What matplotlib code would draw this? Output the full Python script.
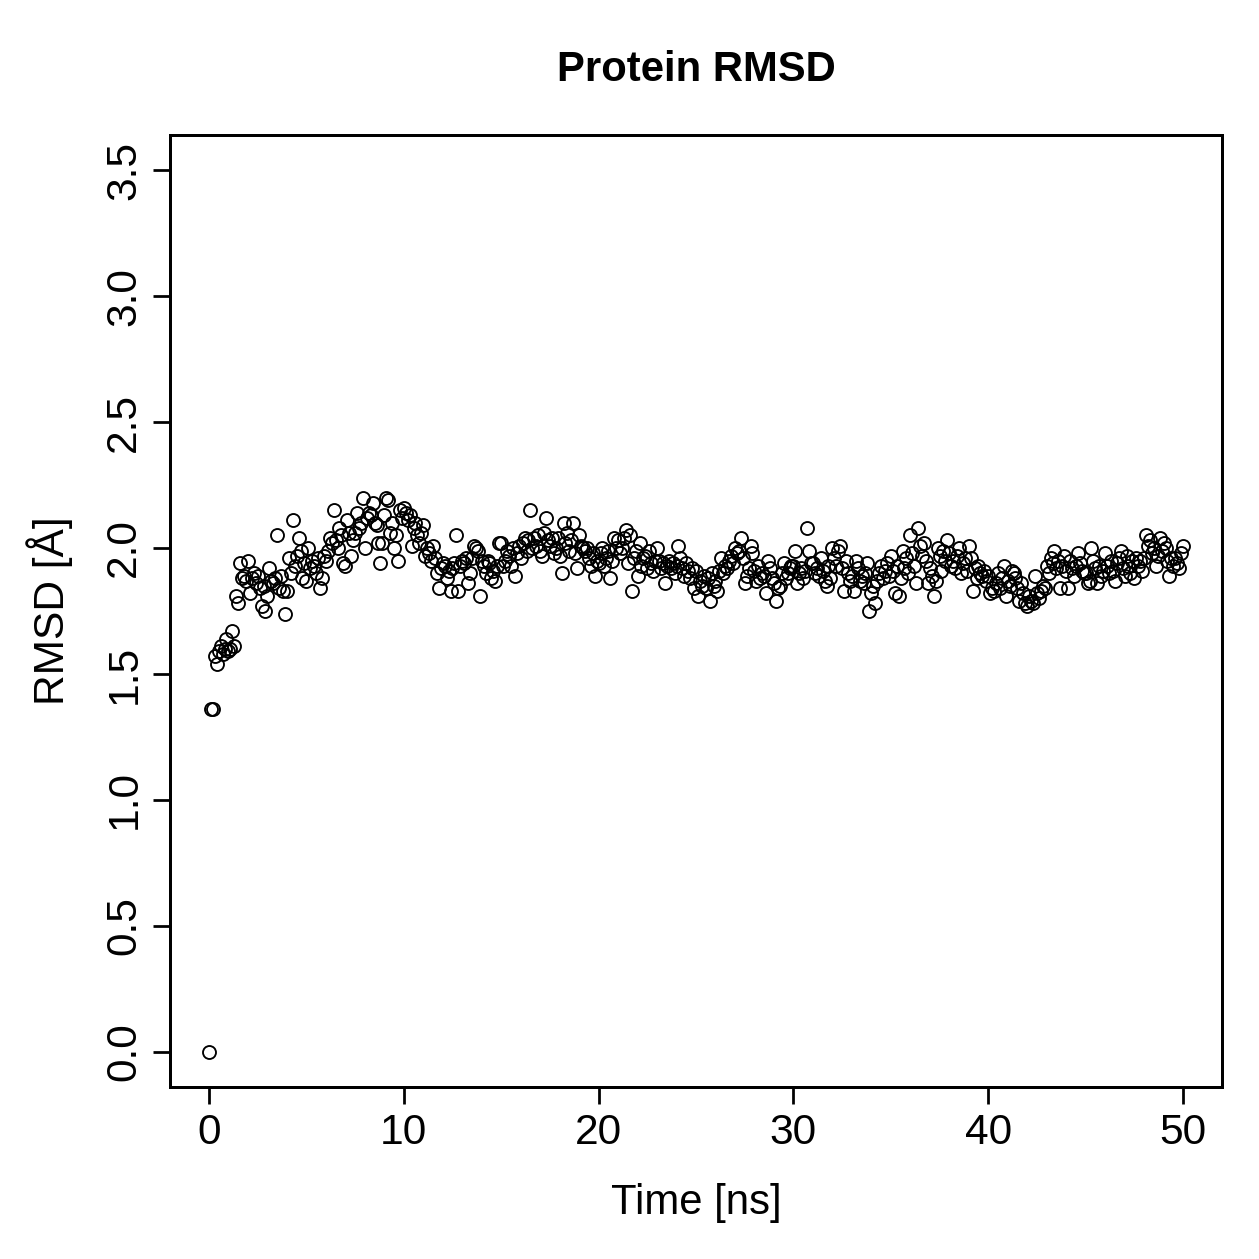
import numpy as np
import matplotlib
matplotlib.use("Agg")
import matplotlib.pyplot as plt

plt.rcParams['font.family'] = ['Liberation Sans', 'DejaVu Sans']

# RMSD values [A], one frame every 0.1 ns
rmsd_0_10 = [
    0.00, 1.36, 1.36, 1.57, 1.54, 1.59, 1.61, 1.58, 1.60, 1.64,
    1.59, 1.60, 1.67, 1.61, 1.81, 1.78, 1.94, 1.88, 1.89, 1.87,
    1.95, 1.82, 1.88, 1.90, 1.86, 1.89, 1.84, 1.77, 1.85, 1.75,
    1.81, 1.92, 1.87, 1.86, 1.88, 2.05, 1.84, 1.89, 1.83, 1.74,
    1.83, 1.96, 1.90, 2.11, 1.93, 1.97, 2.04, 1.99, 1.88, 1.94,
    1.87, 2.00, 1.92, 1.95, 1.93, 1.90, 1.96, 1.84, 1.88, 1.97,
    1.95, 1.99, 2.04, 2.02, 2.15, 2.03, 2.00, 2.08, 2.05, 1.94,
    1.93, 2.11, 2.06, 1.97, 2.03, 2.06, 2.14, 2.08, 2.10, 2.20,
    2.00, 2.12, 2.14, 2.13, 2.18, 2.10, 2.09, 2.02, 1.94, 2.02,
    2.13, 2.20, 2.19, 2.06, 2.10, 2.00, 2.05, 1.95, 2.15, 2.12,
]
rmsd_10_20 = [
    2.16, 2.14, 2.11, 2.13, 2.01, 2.08, 2.10, 2.05, 2.02, 2.06,
    2.09, 1.97, 2.00, 1.98, 1.95, 2.01, 1.96, 1.90, 1.84, 1.92,
    1.94, 1.93, 1.88, 1.91, 1.83, 1.92, 1.94, 2.05, 1.83, 1.93,
    1.95, 1.94, 1.96, 1.86, 1.90, 1.96, 2.01, 2.00, 1.99, 1.81,
    1.95, 1.93, 1.90, 1.95, 1.94, 1.88, 1.91, 1.87, 1.93, 2.02,
    2.02, 1.93, 1.95, 1.99, 1.97, 1.93, 2.00, 1.89, 1.98, 2.01,
    1.96, 2.02, 2.04, 1.99, 2.03, 2.15, 2.00, 2.04, 2.01, 2.05,
    1.99, 1.97, 2.06, 2.12, 2.03, 2.01, 2.04, 1.98, 2.00, 2.04,
    1.97, 1.90, 2.10, 2.02, 2.06, 1.99, 2.03, 2.10, 1.98, 1.92,
    2.05, 2.01, 2.00, 1.99, 2.00, 1.96, 1.93, 1.98, 1.89, 1.95,
]
rmsd_20_30 = [
    1.94, 1.98, 2.00, 1.93, 1.96, 1.99, 1.88, 1.95, 2.04, 2.00,
    2.03, 1.98, 2.00, 2.04, 2.07, 1.94, 2.05, 1.83, 1.96, 1.99,
    1.89, 2.02, 1.93, 1.96, 1.97, 1.92, 1.99, 1.94, 1.91, 1.95,
    2.00, 1.95, 1.92, 1.94, 1.86, 1.93, 1.95, 1.92, 1.94, 1.90,
    1.93, 2.01, 1.96, 1.92, 1.89, 1.94, 1.91, 1.88, 1.92, 1.84,
    1.91, 1.81, 1.87, 1.85, 1.89, 1.84, 1.88, 1.79, 1.90, 1.85,
    1.87, 1.83, 1.91, 1.96, 1.90, 1.93, 1.92, 1.95, 1.97, 1.94,
    2.00, 1.98, 1.99, 2.04, 1.96, 1.86, 1.89, 1.92, 2.01, 1.98,
    1.91, 1.87, 1.93, 1.88, 1.90, 1.89, 1.82, 1.95, 1.92, 1.88,
    1.86, 1.79, 1.84, 1.85, 1.90, 1.94, 1.88, 1.90, 1.92, 1.93,
]
rmsd_30_40 = [
    1.93, 1.99, 1.86, 1.90, 1.92, 1.88, 1.91, 2.08, 1.99, 1.94,
    1.94, 1.90, 1.92, 1.89, 1.96, 1.91, 1.87, 1.85, 1.93, 1.88,
    2.00, 1.96, 1.93, 1.99, 2.01, 1.92, 1.83, 1.95, 1.90, 1.87,
    1.89, 1.83, 1.95, 1.92, 1.87, 1.89, 1.86, 1.90, 1.94, 1.75,
    1.82, 1.85, 1.78, 1.87, 1.90, 1.93, 1.88, 1.91, 1.94, 1.89,
    1.97, 1.91, 1.82, 1.93, 1.81, 1.88, 1.99, 1.92, 1.96, 1.90,
    2.05, 1.98, 1.93, 1.86, 2.08, 2.01, 1.97, 2.02, 1.95, 1.86,
    1.92, 1.89, 1.81, 1.87, 2.00, 1.97, 1.91, 1.99, 1.95, 2.03,
    1.98, 1.93, 1.95, 1.92, 1.97, 2.00, 1.90, 1.94, 1.96, 1.91,
    2.01, 1.96, 1.83, 1.92, 1.88, 1.93, 1.90, 1.89, 1.91, 1.87,
]
rmsd_40_50 = [
    1.89, 1.82, 1.84, 1.83, 1.86, 1.90, 1.84, 1.88, 1.93, 1.81,
    1.87, 1.85, 1.91, 1.90, 1.88, 1.84, 1.79, 1.86, 1.82, 1.78,
    1.77, 1.81, 1.79, 1.78, 1.89, 1.82, 1.80, 1.83, 1.85, 1.84,
    1.93, 1.90, 1.96, 1.94, 1.99, 1.92, 1.95, 1.84, 1.93, 1.97,
    1.91, 1.84, 1.95, 1.92, 1.89, 1.93, 1.98, 1.94, 1.91, 1.90,
    1.90, 1.86, 1.87, 2.00, 1.95, 1.92, 1.86, 1.93, 1.89, 1.91,
    1.98, 1.93, 1.90, 1.95, 1.91, 1.87, 1.94, 1.96, 1.99, 1.92,
    1.89, 1.97, 1.93, 1.90, 1.95, 1.88, 1.96, 1.93, 1.95, 1.91,
    1.96, 2.05, 2.01, 2.03, 1.98, 2.00, 1.93, 1.97, 2.04, 1.99,
    2.02, 2.00, 1.95, 1.89, 1.96, 1.93, 1.96, 1.94, 1.92, 1.98,
    2.01,
]

x_ticks = [0, 10, 20, 30, 40, 50]
y_ticks = [0.0, 0.5, 1.0, 1.5, 2.0, 2.5, 3.0, 3.5]

rmsd = np.array(rmsd_0_10 + rmsd_10_20 + rmsd_20_30 + rmsd_30_40 + rmsd_40_50)
time_ns = np.arange(len(rmsd)) * 0.1  # frame spacing 0.1 ns

fig = plt.figure(figsize=(7, 7), dpi=1259 / 7)
ax = fig.add_axes([170 / 1259, 1 - 1087 / 1259, (1222 - 170) / 1259, (1087 - 135) / 1259])

ax.plot(time_ns, rmsd, linestyle='none', marker='o', markersize=5.2,
        markerfacecolor='none', markeredgecolor='black', markeredgewidth=0.75)

ax.set_xlim(-2, 52)
ax.set_ylim(-0.14, 3.64)
ax.set_xticks(x_ticks)
ax.set_xticklabels([str(t) for t in x_ticks])
ax.set_yticks(y_ticks)
ax.set_yticklabels([f"{t:.1f}" for t in y_ticks], rotation=90, va='center')

for side in ax.spines.values():
    side.set_linewidth(1.2)
ax.tick_params(direction='out', length=6.8, width=1.1, labelsize=17, pad=3.5)

fig.text(696 / 1259, 1 - 70 / 1259, "Protein RMSD", ha='center', va='center',
         fontsize=16.8, fontweight='bold')
fig.text(696 / 1259, 1 - 1203 / 1259, "Time [ns]", ha='center', va='center', fontsize=16.8)
fig.text(50 / 1259, 1 - 611 / 1259, "RMSD [Å]", ha='center', va='center',
         rotation=90, fontsize=17)

fig.savefig("out.png", dpi=1259 / 7)
plt.close(fig)
